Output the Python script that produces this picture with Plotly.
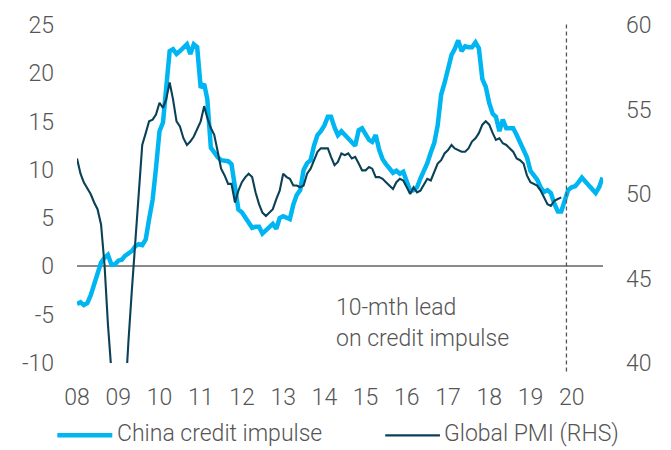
import pandas as pd
import plotly.graph_objects as go

# China credit impulse (% of GDP), monthly from Jan 2008, shifted forward 10 months
credit_impulse = [
    -3.9, -3.7, -4.0, -3.8, -3.0, -1.8, -0.6, 0.4, 0.9, 1.2, 0.2, 0.2,
    0.6, 0.7, 1.1, 1.3, 1.6, 2.1, 2.3, 2.2, 2.8, 4.9, 6.9, 10.2,
    14.0, 14.9, 18.6, 22.3, 22.5, 22.0, 22.3, 22.7, 23.0, 22.0, 23.0, 22.7,
    18.5, 18.9, 17.3, 12.3, 11.8, 11.3, 11.0, 11.0, 10.9, 10.6, 7.8, 5.9,
    5.6, 5.0, 4.4, 4.0, 4.1, 4.1, 3.4, 3.7, 4.1, 4.4, 3.9, 5.0,
    5.2, 5.1, 4.9, 6.4, 7.4, 7.9, 10.0, 10.7, 11.0, 12.5, 13.6, 14.0,
    14.6, 15.5, 15.5, 14.4, 13.6, 14.0, 13.6, 13.2, 12.9, 12.5, 14.1, 14.3,
    13.7, 13.1, 12.9, 13.6, 12.1, 11.1, 10.6, 10.1, 9.7, 9.9, 9.6, 9.8,
    8.8, 7.8, 7.9, 8.2, 9.1, 9.8, 10.7, 11.8, 12.8, 14.6, 17.8, 19.0,
    20.7, 21.9, 22.5, 23.4, 22.3, 22.8, 22.7, 22.7, 23.2, 22.6, 19.4, 18.6,
    16.9, 15.8, 15.5, 14.0, 15.2, 14.3, 14.3, 14.3, 13.6, 12.8, 12.0, 11.3,
    9.9, 9.5, 9.0, 8.2, 7.7, 7.9, 7.6, 6.5, 5.7, 5.7, 7.0, 7.9,
    8.2, 8.3, 8.7, 9.2, 8.8, 8.4, 8.0, 7.6, 8.2, 9.2,
]

# Global manufacturing PMI, monthly from Jan 2008
global_pmi = [
    52.1, 51.2, 50.7, 50.3, 50.0, 49.5, 49.1, 48.2, 45.8, 42.3, 39.0, 36.0,
    34.0, 34.5, 38.0, 41.3, 44.3, 47.4, 50.4, 52.9, 53.6, 54.3, 54.4, 54.7,
    55.4, 55.1, 55.6, 56.6, 55.6, 54.3, 54.0, 53.3, 52.9, 53.1, 53.4, 53.8,
    54.3, 55.2, 54.5, 53.9, 53.5, 52.5, 51.5, 51.1, 50.6, 50.6, 49.5, 50.2,
    50.7, 51.0, 51.2, 51.0, 50.1, 49.4, 48.9, 48.7, 48.9, 49.1, 49.7, 50.2,
    51.2, 51.0, 50.9, 50.5, 50.5, 50.4, 50.5, 51.2, 51.5, 52.0, 52.5, 52.7,
    52.7, 52.7, 52.2, 51.7, 51.9, 52.4, 52.3, 52.4, 52.1, 52.2, 51.8, 51.4,
    51.4, 51.6, 51.5, 51.0, 51.0, 50.9, 50.7, 50.5, 50.3, 50.7, 50.9, 50.8,
    50.4, 50.0, 50.4, 50.1, 50.2, 50.6, 50.9, 50.8, 51.3, 51.8, 52.0, 52.4,
    52.6, 52.9, 52.7, 52.6, 52.5, 52.5, 52.7, 53.1, 53.3, 53.6, 54.1, 54.3,
    54.1, 53.6, 53.2, 53.3, 53.0, 52.9, 52.7, 52.5, 52.1, 52.0, 51.8, 51.1,
    50.7, 50.6, 50.5, 50.2, 49.8, 49.4, 49.3, 49.6, 49.7, 49.8,
]

year_labels = ["08", "09", "10", "11", "12", "13", "14", "15", "16", "17", "18", "19", "20"]
left_ticks = [-10, -5, 0, 5, 10, 15, 20, 25]
left_labels = ["-10", "-5", "0", "5", "10", "15", "20", "25"]
right_ticks = [40, 45, 50, 55, 60]

credit_dates = pd.date_range("2008-01-01", periods=len(credit_impulse), freq="MS")
pmi_dates = pd.date_range("2008-01-01", periods=len(global_pmi), freq="MS")
year_ticks = pd.date_range("2008-01-01", periods=len(year_labels), freq="YS")

BLUE = "#00b6f2"
DARK = "#0b4157"
TEXT = "#555555"
FONT = dict(family="Roboto", size=23, color=TEXT, weight=300)

fig = go.Figure()
fig.add_trace(go.Scatter(
    x=credit_dates, y=credit_impulse, name="China credit impulse",
    mode="lines", line=dict(color=BLUE, width=4.5), yaxis="y",
    showlegend=False,
))
fig.add_trace(go.Scatter(
    x=pmi_dates, y=global_pmi, name="Global PMI (RHS)",
    mode="lines", line=dict(color=DARK, width=2.1), yaxis="y2",
    showlegend=False,
))

# "Today" marker
fig.add_shape(type="line", xref="x", yref="paper",
              x0="2019-11-16", x1="2019-11-16", y0=-0.025, y1=1.006,
              line=dict(color=TEXT, width=1.3, dash="4px,3px"))

# Lead annotation
fig.add_annotation(text="10-mth lead", xref="paper", yref="paper",
                   x=0.489, y=0.1645, xanchor="left", yanchor="middle",
                   showarrow=False, font=FONT)
fig.add_annotation(text="on credit impulse", xref="paper", yref="paper",
                   x=0.489, y=0.0713, xanchor="left", yanchor="middle",
                   showarrow=False, font=FONT)

# Legend drawn below the axis
legend_y = -0.214
for x0, x1, tx, color, width, label in [
    (-0.0374, 0.0671, 0.0725, BLUE, 4.5, "China credit impulse"),
    (0.586, 0.690, 0.693, DARK, 2.2, "Global PMI (RHS)"),
]:
    fig.add_shape(type="line", xref="paper", yref="paper",
                  x0=x0, x1=x1, y0=legend_y, y1=legend_y,
                  line=dict(color=color, width=width))
    fig.add_annotation(text=label, xref="paper", yref="paper",
                       x=tx, y=legend_y + 0.006, xanchor="left", yanchor="middle",
                       showarrow=False, font=FONT)

fig.update_layout(
    width=671, height=450,
    margin=dict(l=77, r=68, t=20, b=86.5),
    paper_bgcolor="white", plot_bgcolor="white",
    font=FONT,
    showlegend=False,
    xaxis=dict(
        type="date", range=["2008-01-01", "2020-10-05"],
        tickvals=year_ticks, ticktext=year_labels,
        showgrid=False, showline=False, zeroline=False, ticks="",
        tickfont=FONT, ticklabelstandoff=18,
    ),
    yaxis=dict(
        range=[-10, 25], tickvals=left_ticks, ticktext=left_labels,
        showgrid=False, showline=False, ticks="",
        zeroline=True, zerolinecolor="#8a8a8a", zerolinewidth=1.5,
        tickfont=FONT, ticklabelstandoff=22,
    ),
    yaxis2=dict(
        range=[40, 60], tickvals=right_ticks, overlaying="y", side="right",
        showgrid=False, showline=False, zeroline=False, ticks="",
        tickfont=FONT, ticklabelstandoff=22,
    ),
)

fig.write_html("out.html")
